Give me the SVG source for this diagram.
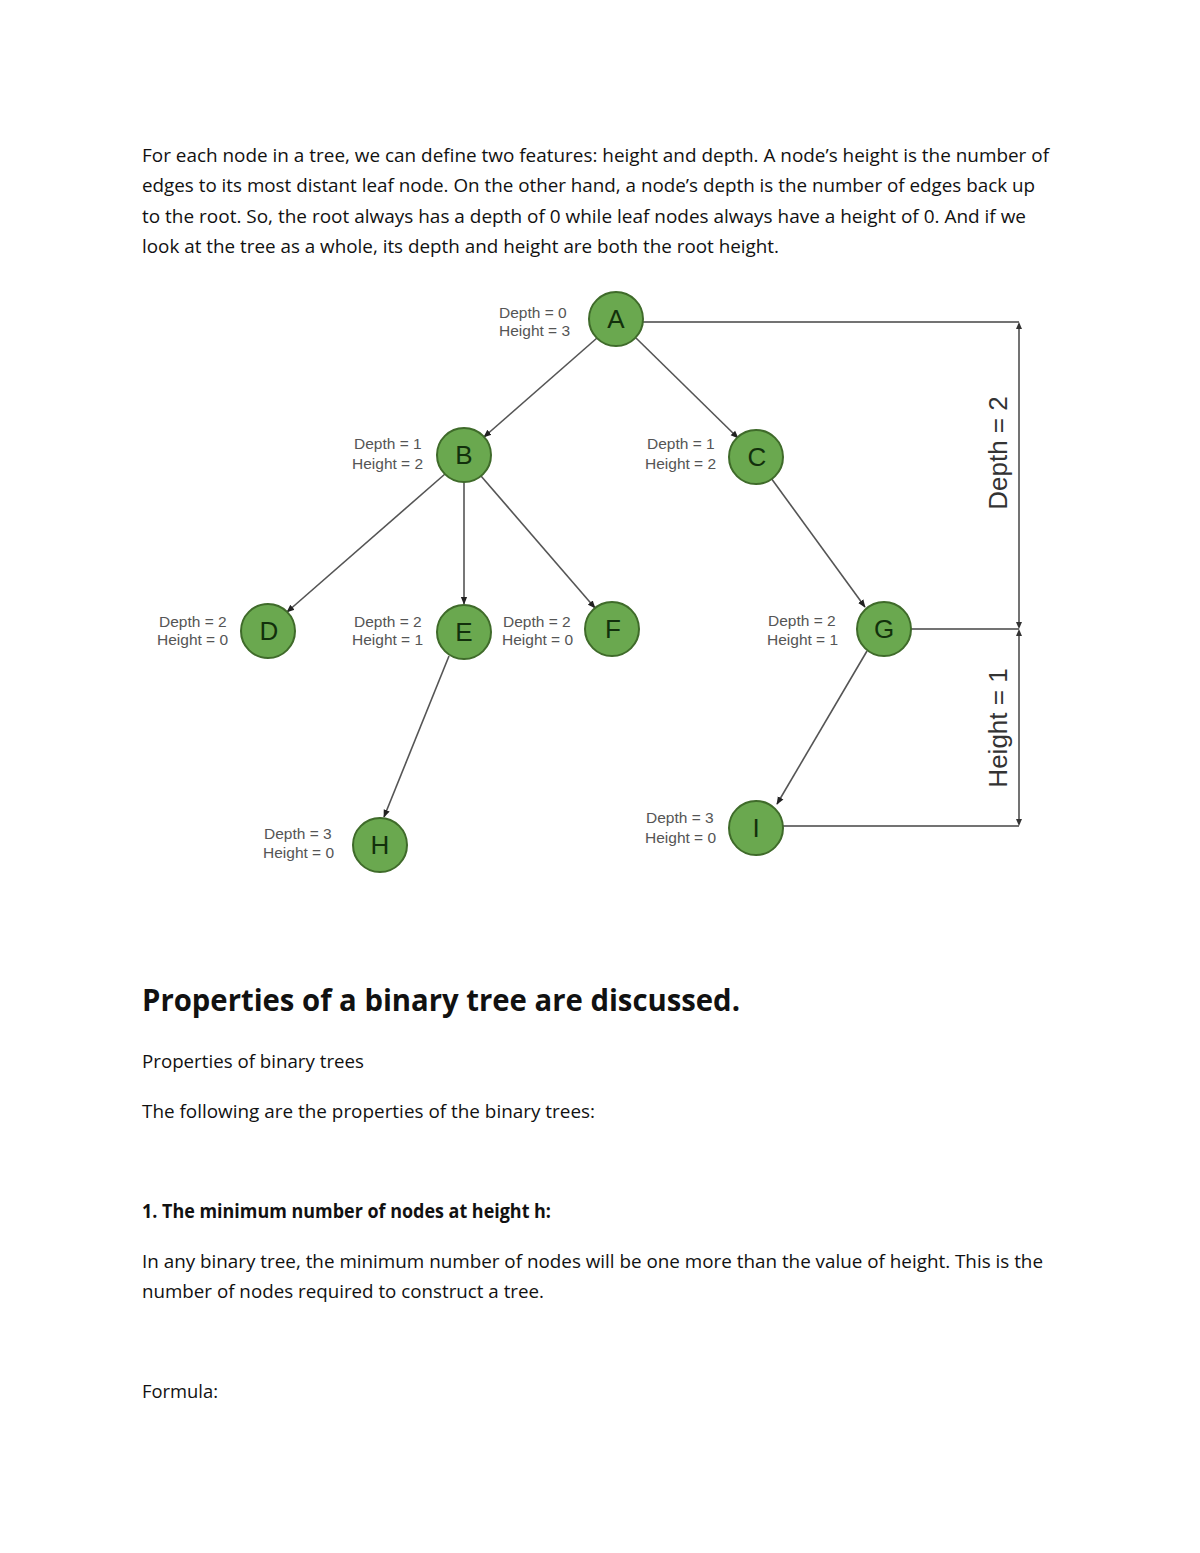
<svg xmlns="http://www.w3.org/2000/svg" width="1200" height="1553" viewBox="0 0 1200 1553">
<defs>
<marker id="ah" viewBox="0 0 10 10" refX="9" refY="5" markerWidth="8" markerHeight="8" orient="auto" markerUnits="userSpaceOnUse">
<path d="M0,1 L10,5 L0,9 Z" fill="#222"/>
</marker>
<style>
.body{font-family:"Open Sans","Liberation Sans",sans-serif;font-size:19px;fill:#111}
.bold{font-weight:bold}
.node circle{fill:#6aa84f;stroke:#3f6b2a;stroke-width:2}
.node text.ch{font-family:"Liberation Sans",Arial,sans-serif;font-size:26px;fill:#12300c;text-anchor:middle}
.node text.lbl{font-family:"Liberation Sans",Arial,sans-serif;font-size:15.5px;fill:#555;text-anchor:start}
.edge{stroke:#555;stroke-width:1.6;fill:none;marker-end:url(#ah)}
.br{stroke:#444;stroke-width:1.5;fill:none}
.meas{font-family:"Liberation Sans",Arial,sans-serif;font-size:26px;fill:#333;text-anchor:middle}
</style>
</defs>
<rect width="1200" height="1553" fill="#fff"/>

<g id="paragraph">
<text class="body" x="142" y="162" textLength="907" lengthAdjust="spacingAndGlyphs">For each node in a tree, we can define two features: height and depth. A node’s height is the number of</text>
<text class="body" x="142" y="192" textLength="893" lengthAdjust="spacingAndGlyphs">edges to its most distant leaf node. On the other hand, a node’s depth is the number of edges back up</text>
<text class="body" x="142" y="223" textLength="884" lengthAdjust="spacingAndGlyphs">to the root. So, the root always has a depth of 0 while leaf nodes always have a height of 0. And if we</text>
<text class="body" x="142" y="253" textLength="637" lengthAdjust="spacingAndGlyphs">look at the tree as a whole, its depth and height are both the root height.</text>
</g>

<g id="connectors">
<line class="edge" x1="597" y1="338" x2="484" y2="437"/>
<line class="edge" x1="636" y1="338" x2="738" y2="438"/>
<line class="edge" x1="445" y1="474" x2="287" y2="612"/>
<line class="edge" x1="464" y1="482" x2="464" y2="604"/>
<line class="edge" x1="481" y1="476" x2="595" y2="608"/>
<line class="edge" x1="771" y1="478" x2="865" y2="607"/>
<line class="edge" x1="449" y1="656" x2="384" y2="817"/>
<line class="edge" x1="867" y1="651" x2="777" y2="804"/>
</g>

<g id="bracket">
<line class="br" x1="643" y1="322" x2="1019" y2="322"/>
<line class="br" x1="911" y1="629" x2="1019" y2="629"/>
<line class="br" x1="783" y1="826" x2="1019" y2="826"/>
<line class="br" x1="1019" y1="326" x2="1019" y2="624"/>
<line class="br" x1="1019" y1="634" x2="1019" y2="822"/>
<path d="M1016,329 L1019,322 L1022,329 Z" fill="#333"/>
<path d="M1016,622 L1019,629 L1022,622 Z" fill="#333"/>
<path d="M1016,636 L1019,629 L1022,636 Z" fill="#333"/>
<path d="M1016,819 L1019,826 L1022,819 Z" fill="#333"/>
<text class="meas" transform="translate(1007,453) rotate(-90)">Depth = 2</text>
<text class="meas" transform="translate(1007,728) rotate(-90)">Height  = 1</text>
</g>

<g id="node-A" class="node"><circle cx="616" cy="319" r="27"/><text class="ch" x="616" y="328">A</text>
<text class="lbl" x="499" y="318">Depth = 0</text><text class="lbl" x="499" y="336">Height = 3</text></g>
<g id="node-B" class="node"><circle cx="464" cy="455" r="27"/><text class="ch" x="464" y="464">B</text>
<text class="lbl" x="354" y="449">Depth = 1</text><text class="lbl" x="352" y="469">Height = 2</text></g>
<g id="node-C" class="node"><circle cx="756" cy="457" r="27"/><text class="ch" x="757" y="466">C</text>
<text class="lbl" x="647" y="449">Depth = 1</text><text class="lbl" x="645" y="469">Height = 2</text></g>
<g id="node-D" class="node"><circle cx="268" cy="631" r="27"/><text class="ch" x="269" y="640">D</text>
<text class="lbl" x="159" y="627">Depth = 2</text><text class="lbl" x="157" y="645">Height = 0</text></g>
<g id="node-E" class="node"><circle cx="464" cy="632" r="27"/><text class="ch" x="464" y="641">E</text>
<text class="lbl" x="354" y="627">Depth = 2</text><text class="lbl" x="352" y="645">Height = 1</text></g>
<g id="node-F" class="node"><circle cx="612" cy="629" r="27"/><text class="ch" x="613" y="638">F</text>
<text class="lbl" x="503" y="627">Depth = 2</text><text class="lbl" x="502" y="645">Height = 0</text></g>
<g id="node-G" class="node"><circle cx="884" cy="629" r="27"/><text class="ch" x="884" y="638">G</text>
<text class="lbl" x="768" y="626">Depth = 2</text><text class="lbl" x="767" y="645">Height = 1</text></g>
<g id="node-H" class="node"><circle cx="380" cy="845" r="27"/><text class="ch" x="380" y="854">H</text>
<text class="lbl" x="264" y="839">Depth = 3</text><text class="lbl" x="263" y="858">Height = 0</text></g>
<g id="node-I" class="node"><circle cx="756" cy="828" r="27"/><text class="ch" x="756" y="837">I</text>
<text class="lbl" x="646" y="823">Depth = 3</text><text class="lbl" x="645" y="843">Height = 0</text></g>

<g id="section">
<text class="body bold" x="142" y="1011" style="font-size:31px" textLength="598" lengthAdjust="spacingAndGlyphs">Properties of a binary tree are discussed.</text>
<text class="body" x="142" y="1068" textLength="222" lengthAdjust="spacingAndGlyphs">Properties of binary trees</text>
<text class="body" x="142" y="1118" textLength="453" lengthAdjust="spacingAndGlyphs">The following are the properties of the binary trees:</text>
<text class="body bold" x="142" y="1218" textLength="409" lengthAdjust="spacingAndGlyphs">1. The minimum number of nodes at height h:</text>
<text class="body" x="142" y="1268" textLength="901" lengthAdjust="spacingAndGlyphs">In any binary tree, the minimum number of nodes will be one more than the value of height. This is the</text>
<text class="body" x="142" y="1298" textLength="402" lengthAdjust="spacingAndGlyphs">number of nodes required to construct a tree.</text>
<text class="body" x="142" y="1398" textLength="76" lengthAdjust="spacingAndGlyphs">Formula:</text>
</g>
</svg>
